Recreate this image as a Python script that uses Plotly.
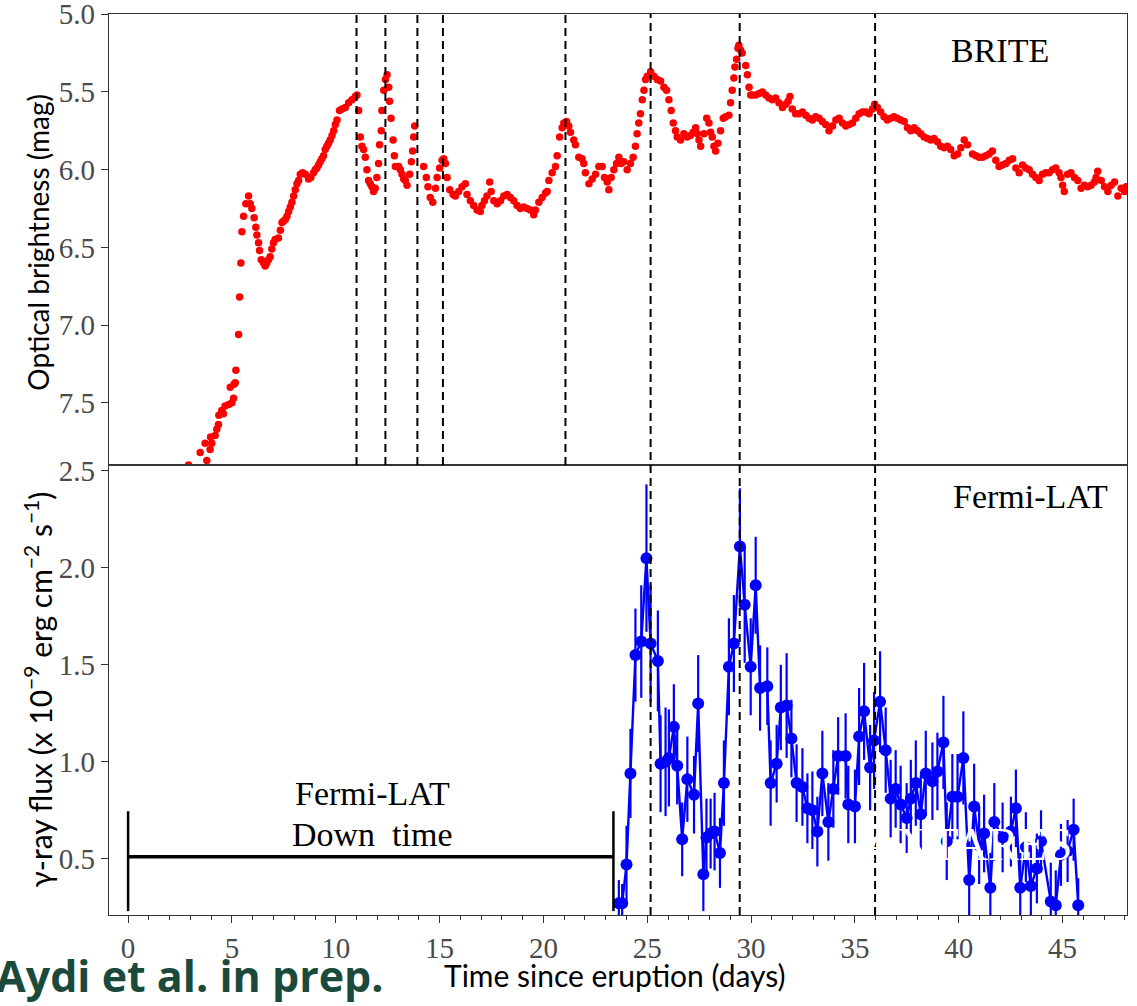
import plotly.graph_objects as go

# ---------------- data ----------------
brite_days = [2.91, 3.47, 3.71, 3.79, 3.95, 4.03, 3.97, 4.19, 4.27, 4.35, 4.37, 4.51, 4.59, 4.67, 4.84, 5.00, 5.08, 4.92, 5.10, 5.16,
              5.19, 5.32, 5.37, 5.43, 5.48, 5.56, 5.67, 5.80, 5.88, 5.96, 6.07, 6.15, 6.20, 6.28, 6.33, 6.41, 6.52, 6.60, 6.68, 6.76,
              6.84, 6.92, 7.00, 7.08, 7.24, 7.33, 7.41, 7.49, 7.57, 7.65, 7.73, 7.81, 7.89, 7.97, 8.05, 8.13, 8.21, 8.29, 8.40, 8.53,
              8.69, 8.80, 8.93, 9.01, 9.09, 9.17, 9.25, 9.33, 9.41, 9.49, 9.57, 9.65, 9.73, 9.82, 9.90, 9.98, 10.06, 10.18, 10.30, 10.46,
              10.62, 10.78, 10.94, 11.02, 11.10, 11.18, 11.26, 11.34, 11.42, 11.50, 11.58, 11.66, 11.74, 11.82, 11.90, 11.98, 12.06, 12.11, 12.19, 12.22,
              12.31, 12.39, 12.47, 12.55, 12.59, 12.66, 12.76, 12.82, 12.87, 13.03, 13.11, 13.19, 13.27, 13.35, 13.43, 13.56, 13.64, 13.70, 13.75, 13.80,
              14.23, 14.36, 14.44, 14.55, 14.67, 14.80, 14.88, 15.00, 15.12, 15.20, 15.28, 15.36, 15.49, 15.65, 15.76,
              15.92, 16.08, 16.24, 16.32, 16.48, 16.64, 16.80, 16.96, 17.04, 17.16, 17.28, 17.41, 17.48, 17.61, 17.77, 17.93, 18.09, 18.25, 18.41, 18.57,
              18.73, 18.89, 19.05, 19.21, 19.37, 19.53, 19.61, 19.78, 19.94, 20.10, 20.18, 20.26, 20.42, 20.58, 20.66, 20.78, 20.90, 20.98, 21.11, 21.22,
              21.30, 21.46, 21.54, 21.70, 21.86, 21.94, 22.02, 22.19, 22.35, 22.51, 22.67, 22.83, 22.94, 23.07, 23.15, 23.26, 23.39, 23.52, 23.63, 23.74,
              23.87, 24.03, 24.19, 24.32, 24.43, 24.51, 24.59, 24.67, 24.76, 24.84, 24.92, 25.00, 25.16, 25.32, 25.48, 25.64, 25.80, 25.93, 26.04, 26.15,
              26.25, 26.36, 26.44, 26.60, 26.76, 26.92, 27.08, 27.21, 27.33, 27.41, 27.49, 27.57, 27.73, 27.86, 27.97, 28.05, 28.13, 28.21, 28.29, 28.40,
              28.53, 28.66, 28.77, 28.93, 29.01, 29.09, 29.17, 29.22, 29.30, 29.37, 29.41, 29.49, 29.57, 29.74, 29.82, 29.90, 29.98,
              30.06, 30.22, 30.38, 30.54, 30.70, 30.86, 31.02, 31.18, 31.34, 31.51, 31.67, 31.78, 31.87, 31.98, 32.14, 32.30, 32.47, 32.63, 32.79, 32.95,
              33.11, 33.27, 33.43, 33.59, 33.75, 33.92, 34.08, 34.24, 34.40, 34.56, 34.72, 34.88, 35.04, 35.20, 35.36, 35.52, 35.68, 35.84, 35.95, 36.08,
              36.24, 36.40, 36.56, 36.72, 36.88, 37.04, 37.20, 37.37, 37.53, 37.69, 37.85, 38.01, 38.17, 38.33, 38.49, 38.65, 38.81, 38.97, 39.13, 39.29,
              39.45, 39.61, 39.78, 39.94, 40.10, 40.26, 40.42, 40.66, 40.82, 40.98, 41.14, 41.30, 41.46, 41.62, 41.78, 41.94, 42.10, 42.27, 42.43, 42.59,
              42.75, 42.91, 43.07, 43.23, 43.39, 43.55, 43.71, 43.87, 44.03, 44.19, 44.35, 44.51, 44.67, 44.83, 44.92, 45.00, 45.08, 45.24, 45.40, 45.57,
              45.73, 45.89, 46.05, 46.21, 46.37, 46.53, 46.61, 46.69, 46.86, 47.02, 47.18, 47.34, 47.50, 47.66, 47.82, 47.98, 48.06]
brite_mag = [7.90, 7.82, 7.76, 7.87, 7.80, 7.76, 7.72, 7.71, 7.67, 7.64, 7.58, 7.55, 7.57, 7.52, 7.51, 7.50, 7.47, 7.40, 7.38, 7.37,
             7.29, 7.06, 6.82, 6.60, 6.40, 6.30, 6.22, 6.17, 6.22, 6.25, 6.31, 6.37, 6.42, 6.47, 6.52, 6.58, 6.60, 6.62, 6.60, 6.58,
             6.56, 6.51, 6.47, 6.45, 6.44, 6.39, 6.34, 6.33, 6.32, 6.30, 6.27, 6.24, 6.21, 6.17, 6.13, 6.09, 6.07, 6.03, 6.02, 6.03,
             6.06, 6.05, 6.02, 6.00, 5.99, 5.97, 5.95, 5.93, 5.91, 5.87, 5.85, 5.83, 5.81, 5.78, 5.75, 5.71, 5.68, 5.62, 5.61, 5.60,
             5.57, 5.55, 5.53, 5.52, 5.62, 5.79, 5.85, 5.87, 5.92, 6.00, 6.07, 6.09, 6.11, 6.14, 6.12, 6.05, 5.96, 5.84, 5.75, 5.62,
             5.49, 5.42, 5.39, 5.47, 5.56, 5.67, 5.81, 5.91, 5.98, 5.98, 6.00, 6.03, 6.06, 6.07, 6.10, 6.03, 5.95, 5.88, 5.79, 5.72,
             5.98, 6.05, 6.11, 6.18, 6.21, 6.12, 6.05, 5.99, 5.94, 5.93, 5.96, 6.05, 6.13, 6.16, 6.17,
             6.14, 6.11, 6.09, 6.16, 6.20, 6.23, 6.26, 6.27, 6.23, 6.20, 6.17, 6.08, 6.14, 6.20, 6.22, 6.20, 6.17, 6.16, 6.18, 6.20,
             6.23, 6.25, 6.24, 6.25, 6.26, 6.29, 6.26, 6.21, 6.18, 6.15, 6.14, 6.07, 6.02, 5.98, 5.91, 5.79, 5.73, 5.70, 5.69, 5.72,
             5.76, 5.81, 5.84, 5.92, 5.93, 5.96, 6.02, 6.09, 6.06, 6.03, 5.98, 5.98, 6.05, 6.08, 6.13, 6.05, 6.00, 5.96, 5.92, 5.96,
             5.95, 6.00, 5.96, 5.92, 5.85, 5.77, 5.70, 5.64, 5.55, 5.49, 5.42, 5.40, 5.37, 5.40, 5.42, 5.43, 5.47, 5.49, 5.55, 5.62,
             5.70, 5.75, 5.79, 5.81, 5.77, 5.79, 5.78, 5.76, 5.73, 5.77, 5.81, 5.85, 5.77, 5.67, 5.70, 5.76, 5.79, 5.85, 5.88, 5.83,
             5.75, 5.67, 5.66, 5.65, 5.57, 5.49, 5.41, 5.34, 5.29, 5.22, 5.20, 5.23, 5.25, 5.33, 5.39, 5.47, 5.52,
             5.52, 5.52, 5.51, 5.50, 5.52, 5.54, 5.55, 5.54, 5.57, 5.60, 5.58, 5.56, 5.53, 5.61, 5.64, 5.64, 5.63, 5.65, 5.67, 5.68,
             5.66, 5.67, 5.69, 5.71, 5.75, 5.72, 5.68, 5.67, 5.70, 5.72, 5.71, 5.70, 5.67, 5.64, 5.63, 5.63, 5.64, 5.61, 5.58, 5.60,
             5.63, 5.66, 5.68, 5.67, 5.66, 5.67, 5.68, 5.69, 5.73, 5.75, 5.73, 5.75, 5.77, 5.79, 5.80, 5.81, 5.80, 5.82, 5.85, 5.86,
             5.85, 5.87, 5.91, 5.90, 5.86, 5.81, 5.84, 5.90, 5.91, 5.92, 5.92, 5.91, 5.90, 5.88, 5.94, 5.98, 5.97, 5.96, 5.94, 5.93,
             5.99, 6.02, 5.97, 5.99, 6.00, 6.03, 6.05, 6.07, 6.03, 6.02, 6.02, 6.00, 5.99, 6.02, 6.05, 6.10, 6.14, 6.03, 6.02, 6.05,
             6.07, 6.12, 6.10, 6.11, 6.10, 6.08, 6.05, 6.01, 6.07, 6.11, 6.14, 6.10, 6.08, 6.17, 6.12, 6.14, 6.11]

fermi_days = [23.63, 23.79, 24.00, 24.19, 24.43, 24.71, 24.96, 25.16, 25.51, 25.64,
              25.88, 26.04, 26.28, 26.44, 26.68, 26.93, 27.25, 27.45, 27.70, 27.85,
              28.05, 28.24, 28.50, 28.69, 28.93, 29.17, 29.46, 29.69, 29.98, 30.22,
              30.43, 30.78, 30.94, 31.23, 31.43, 31.71, 31.94, 32.19, 32.47, 32.71,
              32.95, 33.19, 33.43, 33.72, 33.96, 34.19, 34.55, 34.68, 35.00, 35.20,
              35.44, 35.73, 35.92, 36.21, 36.48, 36.72, 36.96, 37.20, 37.49, 37.69,
              37.93, 38.17, 38.41, 38.73, 38.97, 39.26, 39.42, 39.69, 39.94, 40.22,
              40.50, 40.74, 40.98, 41.22, 41.52, 41.71, 42.11, 42.51, 42.75, 42.96,
              43.23, 43.47, 43.76, 43.96, 44.43, 44.67, 44.92, 45.24, 45.53, 45.75]
fermi_flux = [0.27, 0.27, 0.47, 0.94, 1.55, 1.62, 2.05, 1.61, 1.52, 0.99,
              1.00, 1.02, 1.18, 0.98, 0.60, 0.91, 0.83, 1.30, 0.42, 0.61,
              0.63, 0.64, 0.53, 0.89, 1.49, 1.61, 2.11, 1.81, 1.49, 1.91,
              1.38, 1.39, 0.89, 0.99, 1.28, 1.29, 1.12, 0.89, 0.87, 0.76,
              0.75, 0.64, 0.94, 0.69, 0.86, 1.03, 1.03, 0.78, 0.77, 1.13,
              1.26, 0.97, 1.11, 1.31, 1.06, 0.81, 0.86, 0.78, 0.71, 0.81,
              0.89, 0.73, 0.94, 0.90, 0.95, 1.10, 0.59, 0.82, 0.82, 1.02,
              0.39, 0.77, 0.57, 0.63, 0.35, 0.69, 0.61, 0.64, 0.76, 0.35,
              0.56, 0.36, 0.45, 0.59, 0.28, 0.26, 0.52, 0.54, 0.65, 0.26]
fermi_err = [0.12, 0.10, 0.20, 0.23, 0.24, 0.29, 0.38, 0.30, 0.26, 0.25,
             0.28, 0.25, 0.22, 0.20, 0.19, 0.22, 0.20, 0.25, 0.19, 0.20,
             0.18, 0.20, 0.18, 0.22, 0.25, 0.25, 0.30, 0.30, 0.25, 0.25,
             0.22, 0.20, 0.22, 0.20, 0.22, 0.27, 0.20, 0.20, 0.20, 0.18,
             0.20, 0.18, 0.22, 0.20, 0.20, 0.20, 0.22, 0.20, 0.19, 0.25,
             0.25, 0.22, 0.25, 0.26, 0.22, 0.20, 0.20, 0.20, 0.18, 0.20,
             0.22, 0.20, 0.22, 0.20, 0.20, 0.24, 0.20, 0.22, 0.22, 0.24,
             0.20, 0.22, 0.20, 0.20, 0.18, 0.20, 0.18, 0.18, 0.20, 0.18,
             0.18, 0.20, 0.18, 0.16, 0.20, 0.18, 0.16, 0.16, 0.16, 0.14]

optical_peaks = [11.0, 12.39, 13.93, 15.16]
shared_peaks = [25.16, 29.45, 35.97]
extra_optical_peak = [21.06]

downtime_start = 0.0
downtime_end = 23.37
downtime_level = 0.51
downtime_cap_low = 0.23
downtime_cap_high = 0.745

x_ticks = [0, 5, 10, 15, 20, 25, 30, 35, 40, 45]
mag_ticks = [5.0, 5.5, 6.0, 6.5, 7.0, 7.5]
flux_ticks = [0.5, 1.0, 1.5, 2.0, 2.5]

# ---------------- figure ----------------
fig = go.Figure()

fig.add_trace(go.Scatter(
    x=brite_days, y=brite_mag, mode="markers", xaxis="x", yaxis="y",
    marker=dict(color="#ff0000", size=7.5, line=dict(width=0)),
    showlegend=False, cliponaxis=True))

fig.add_trace(go.Scatter(
    x=fermi_days, y=fermi_flux, mode="lines+markers", xaxis="x2", yaxis="y2",
    line=dict(color="#0000ff", width=2.4),
    marker=dict(color="#0000ff", size=12),
    error_y=dict(type="data", array=fermi_err, color="#0000ff", thickness=2.2, width=0),
    showlegend=False))

shapes = []
dash_line = dict(color="black", width=2, dash="8px,5px")
for xv in optical_peaks + extra_optical_peak:
    shapes.append(dict(type="line", xref="x", yref="paper", x0=xv, x1=xv,
                       y0=0.4994, y1=1, line=dash_line, layer="above"))
for xv in shared_peaks:
    shapes.append(dict(type="line", xref="x", yref="paper", x0=xv, x1=xv,
                       y0=0, y1=1, line=dash_line, layer="above"))
# Fermi-LAT down time bar
shapes.append(dict(type="line", xref="x2", yref="y2", x0=downtime_start, x1=downtime_end,
                   y0=downtime_level, y1=downtime_level, line=dict(color="black", width=3.5)))
for xv in [downtime_start, downtime_end]:
    shapes.append(dict(type="line", xref="x2", yref="y2", x0=xv, x1=xv,
                       y0=downtime_cap_low, y1=downtime_cap_high, line=dict(color="black", width=2.5)))

tick_font = dict(family="Liberation Serif", size=29, color="#4a4a4a")
axis_common = dict(showline=True, linecolor="#333333", linewidth=1.3, mirror=True,
                   showgrid=False, zeroline=False)

fig.update_layout(
    width=1137, height=1006,
    margin=dict(l=109, r=10, t=14, b=91, autoexpand=False),
    paper_bgcolor="white", plot_bgcolor="white",
    shapes=shapes,
    xaxis=dict(domain=[0, 1], anchor="y", range=[-0.92, 48.1], matches="x2",
               showticklabels=False, ticks="", **axis_common),
    yaxis=dict(domain=[0.4994, 1], anchor="x", range=[7.9, 4.999],
               tickvals=mag_ticks, ticktext=[f"{v:.1f}" for v in mag_ticks],
               ticks="outside", ticklen=7, tickwidth=1.3, tickcolor="#333333",
               ticklabeloverflow="allow",
               tickfont=tick_font, **axis_common),
    xaxis2=dict(domain=[0, 1], anchor="y2", range=[-0.92, 48.1],
                tickvals=x_ticks, ticktext=[str(v) for v in x_ticks],
                ticks="outside", ticklen=7, tickwidth=1.3, tickcolor="#333333",
                minor=dict(dtick=1, ticks="outside", ticklen=4, tickcolor="#333333", tickwidth=1),
                ticklabeloverflow="allow",
                tickfont=tick_font, **axis_common),
    yaxis2=dict(domain=[0, 0.4994], anchor="x2", range=[0.21, 2.53],
                tickvals=flux_ticks, ticktext=[f"{v:.1f}" for v in flux_ticks],
                ticks="outside", ticklen=7, tickwidth=1.3, tickcolor="#333333",
                ticklabeloverflow="allow",
                tickfont=tick_font, **axis_common),
)

serif = "Liberation Serif"
sans = "Lato"
ann = [
    dict(text="BRITE", x=0.875, y=0.960, font=dict(family=serif, size=34, color="black")),
    dict(text="Fermi-LAT", x=0.905, y=0.464, font=dict(family=serif, size=34, color="black")),
    dict(text="Fermi-LAT", x=0.259, y=0.1354, font=dict(family=serif, size=34, color="black")),
    dict(text="Down  time", x=0.259, y=0.0888, font=dict(family=serif, size=34, color="black")),
    dict(text="ANTARES", x=0.844, y=0.0777, font=dict(family=serif, size=46, color="white")),
    dict(text="Optical brightness (mag)", x=-0.07, y=0.747, textangle=-90,
         font=dict(family=sans, size=28, color="black")),
    dict(text="γ-ray flux (x 10<sup>−9</sup> erg cm<sup>−2</sup> s<sup>−1</sup>)", x=-0.07, y=0.25,
         textangle=-90, font=dict(family=sans, size=30, color="black")),
    dict(text="Time since eruption (days)", x=0.497, y=-0.0666,
         font=dict(family=sans, size=30, color="black")),
    dict(text="<b>Aydi et al. in prep.</b>", x=-0.113, y=-0.0677, xanchor="left",
         font=dict(family="Open Sans", size=43, color="#1b4a3c")),
]
for a in ann:
    a.setdefault("xanchor", "center")
    a.update(xref="paper", yref="paper", yanchor="middle", showarrow=False)
fig.update_layout(annotations=ann)

fig.write_html("out.html")
